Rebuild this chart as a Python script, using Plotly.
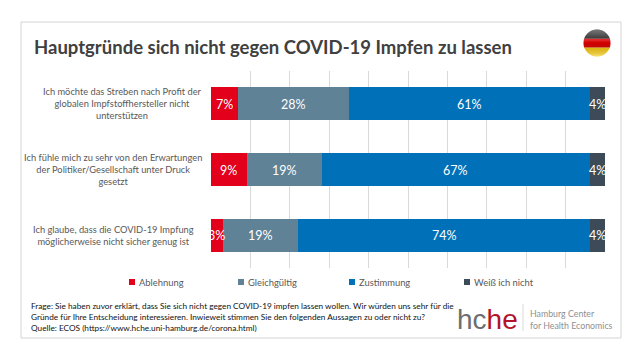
import base64
import plotly.graph_objects as go

W, H = 640, 361
PL, PR, PT, PB = 211, 605, 71, 268

categories = [
    "Ich möchte das Streben nach Profit der<br>globalen Impfstoffhersteller nicht<br>unterstützen",
    "Ich fühle mich zu sehr von den Erwartungen<br>der Politiker/Gesellschaft unter Druck<br>gesetzt",
    "Ich glaube, dass die COVID-19 Impfung<br>möglicherweise nicht sicher genug ist",
]
category_center_px = [122, 113, 113]
series_names = ["Ablehnung", "Gleichgültig", "Zustimmung", "Weiß ich nicht"]
series_colors = ["#e2001a", "#5f8296", "#0070b8", "#3c4b57"]
series_values = [
    [6.9, 9.1, 3.0],
    [28.2, 19.0, 19.0],
    [61.1, 68.0, 74.3],
    [3.8, 3.9, 3.7],
]
series_labels = [
    ["7%", "9%", "3%"],
    ["28%", "19%", "19%"],
    ["61%", "67%", "74%"],
    ["4%", "4%", "4%"],
]
legend_marker_px = [132, 241, 352, 467]
title = "Hauptgründe sich nicht gegen COVID-19 Impfen zu lassen"
footer_lines = [
    "Frage: Sie haben zuvor erklärt, dass Sie sich nicht gegen COVID-19 impfen lassen wollen. Wir würden uns sehr für die",
    "Gründe für Ihre Entscheidung interessieren. Inwieweit stimmen Sie den folgenden Aussagen zu oder nicht zu?",
    "Quelle: ECOS (https://www.hche.uni-hamburg.de/corona.html)",
]
FONT = "Lato, Carlito, Calibri, sans-serif"


def px_x(x):
    return (x - PL) / (PR - PL)


def px_y(y):
    return (PB - y) / (PB - PT)


def note(x, y, text, size, color, anchor="left", align="left", family=FONT, **kw):
    return dict(xref="paper", yref="paper", x=px_x(x), y=px_y(y), text=text, showarrow=False,
                xanchor=anchor, yanchor="middle", align=align,
                font=dict(family=family, size=size, color=color), **kw)


fig = go.Figure()
for name, color, vals in zip(series_names, series_colors, series_values):
    fig.add_bar(y=categories, x=vals, name=name, orientation="h",
                marker=dict(color=color, line_width=0), showlegend=False)

annotations = [note(31.5, 47, f"<b>{title}</b>", 18.5, "#404040")]

# Value labels are placed at each segment's midpoint, above every bar,
# so a narrow segment's label is not hidden by its neighbour.
running = [0.0] * len(categories)
for vals, labels in zip(series_values, series_labels):
    for cat, r, v, lab in zip(categories, running, vals, labels):
        annotations.append(dict(xref="x", yref="y", x=r + v / 2, y=cat, text=lab, showarrow=False,
                                xanchor="center", yanchor="middle", yshift=-0.5,
                                font=dict(family=FONT, size=12.5, color="white")))
    running = [r + v for r, v in zip(running, vals)]

shapes = [dict(type="rect", xref="paper", yref="paper", x0=px_x(21), x1=px_x(621), y0=px_y(22), y1=px_y(338),
               line=dict(color="#d4d4d4", width=1), fillcolor="rgba(0,0,0,0)", layer="below")]

for cat, cx in zip(categories, category_center_px):
    annotations.append(dict(xref="paper", yref="y", x=px_x(cx), y=cat, text=cat, showarrow=False,
                            xanchor="center", yanchor="middle", align="center",
                            font=dict(family=FONT, size=9.3, color="#595959")))

for name, color, mx in zip(series_names, series_colors, legend_marker_px):
    shapes.append(dict(type="rect", xref="paper", yref="paper", x0=px_x(mx - 3), x1=px_x(mx + 3),
                       y0=px_y(279), y1=px_y(285), fillcolor=color, line_width=0))
    annotations.append(note(mx + 5, 282, name, 9.4, "#595959"))

for i, line in enumerate(footer_lines):
    annotations.append(note(28.5, 306 + i * 11, line, 8.25, "#111111"))

annotations.append(note(455, 319, '<span style="color:#6e6e6e">hc</span><span style="color:#b3142a">he</span>',
                        28, "#6e6e6e", family="'Liberation Sans', Arial, sans-serif"))
annotations.append(note(528, 313, "Hamburg Center", 8.8, "#8f8f8f"))
annotations.append(note(528, 325, "for Health Economics", 8.8, "#8f8f8f"))
shapes.append(dict(type="line", xref="paper", yref="paper", x0=px_x(523), x1=px_x(523),
                   y0=px_y(304), y1=px_y(331), line=dict(color="#d9d9d9", width=1)))

flag_svg = """<svg xmlns="http://www.w3.org/2000/svg" width="120" height="120" viewBox="0 0 120 120">
<defs><clipPath id="c"><circle cx="60" cy="60" r="58"/></clipPath>
<linearGradient id="g" x1="0" y1="0" x2="0" y2="1">
<stop offset="0" stop-color="#fff" stop-opacity=".45"/><stop offset=".42" stop-color="#fff" stop-opacity=".12"/>
<stop offset=".5" stop-color="#000" stop-opacity=".05"/><stop offset="1" stop-color="#fff" stop-opacity=".45"/></linearGradient></defs>
<g clip-path="url(#c)"><rect width="120" height="42" fill="#111"/><rect y="42" width="120" height="38" fill="#dd0000"/>
<rect y="80" width="120" height="40" fill="#ffce00"/><rect width="120" height="120" fill="url(#g)"/></g></svg>"""
flag_uri = "data:image/svg+xml;base64," + base64.b64encode(flag_svg.encode()).decode()

fig.update_layout(
    width=W, height=H, barmode="stack", bargap=0.5,
    margin=dict(l=PL, r=W - PR, t=PT, b=H - PB, pad=0),
    paper_bgcolor="white", plot_bgcolor="white",
    font=dict(family=FONT),
    xaxis=dict(range=[0, 100], dtick=10, showticklabels=False, showgrid=True, gridcolor="#d9d9d9",
               gridwidth=1, zeroline=False, showline=False, ticks=""),
    yaxis=dict(autorange="reversed", showticklabels=False, ticks="", showgrid=False, zeroline=False, showline=False),
    annotations=annotations, shapes=shapes,
    images=[dict(source=flag_uri, xref="paper", yref="paper", x=px_x(583), y=px_y(29), sizex=28 / (PR - PL),
                 sizey=28 / (PB - PT), xanchor="left", yanchor="top", sizing="stretch", layer="above")],
)
fig.write_html("out.html", config={"displayModeBar": False},
               post_script="document.body.style.margin='0';document.documentElement.style.overflow='hidden';")
